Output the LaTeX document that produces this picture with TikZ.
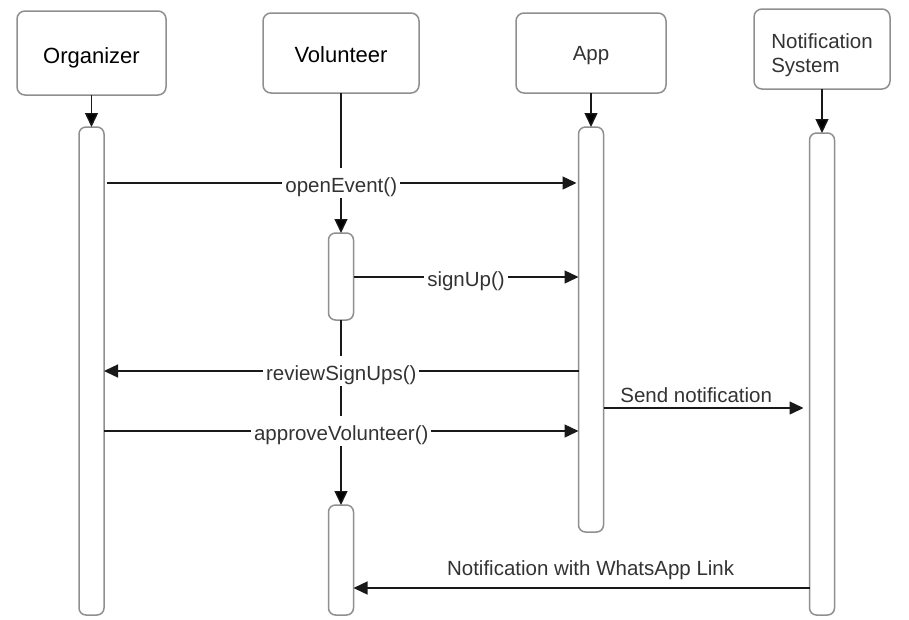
\documentclass[tikz,border=0pt]{standalone}
\usepackage{fontspec}
\setmainfont{Liberation Sans}
\usetikzlibrary{positioning,arrows.meta}
\definecolor{boxgray}{HTML}{8F8F8F}
\definecolor{txtgray}{HTML}{333333}

\begin{document}
\begin{tikzpicture}[x=1pt,y=-1pt,>={Triangle[length=14pt,width=13pt]},semithick]
  \tikzstyle{actor}=[draw=boxgray,line width=1.5pt,rounded corners=8pt,fill=white,inner sep=0pt,outer sep=0pt,text=txtgray,font=\fontsize{20.5}{24}\selectfont,text depth=0pt,text height=18pt]
  \tikzstyle{bigname}=[text=black,font=\fontsize{22}{26}\selectfont]
  \tikzstyle{bar}=[draw=boxgray,line width=1.5pt,rounded corners=7pt,fill=white,minimum width=25pt,inner sep=0pt,outer sep=0pt]
  \tikzstyle{msg}=[->,line width=1.4pt,draw=black!90]
  \tikzstyle{lbl}=[fill=white,inner sep=3pt,text=txtgray,font=\fontsize{20.5}{24}\selectfont,text height=21pt,text depth=3pt]

  \fill[white] (0,0) rectangle (909,619);
  \useasboundingbox (0,0) rectangle (909,619);

  % Participants
  \node[actor, bigname, minimum width=149pt, minimum height=84pt, text height=20.6pt] (Org) at (91.5,53) {Organizer};
  \node[actor, bigname, minimum width=156pt, minimum height=80pt] (Vol) [right=97pt of Org] {Volunteer};
  \node[actor, minimum width=150pt, minimum height=80pt, text height=14pt] (App) [right=97pt of Vol] {App};
  \node[actor, minimum width=136pt, minimum height=80pt, align=left, text height=46pt] (NS) [right=88pt of App, yshift=4pt] {Notification\\System};

  % Activation bars
  \node[bar, minimum height=488pt] (OrgBar) [below=32pt of Org] {};
  \node[bar, minimum height=87pt] (VolBarA) [below=140pt of Vol] {};
  \node[bar, minimum height=110pt] (VolBarB) [below=185pt of VolBarA] {};
  \node[bar, minimum height=405pt] (AppBar) [below=34pt of App] {};
  \node[bar, minimum height=482pt] (NSBar) [below=44pt of NS] {};

  % Lifelines
  \path[msg]
    (Org) edge (OrgBar)
    (Vol) edge (VolBarA)
    (VolBarA) edge (VolBarB)
    (App) edge (AppBar)
    (NS) edge (NSBar);

  % Message rows
  \coordinate (r1) at (0,183);
  \coordinate (r2) at (0,277);
  \coordinate (r3) at (0,371);
  \coordinate (r4) at (0,408);
  \coordinate (r5) at (0,431);
  \coordinate (r6) at (0,588);

  % Messages
  \draw[msg, shorten <=3pt, shorten >=2pt] (OrgBar.east |- r1) -- node[lbl]{openEvent()} (AppBar.west |- r1);
  \draw[msg] (VolBarA.east |- r2) -- node[lbl]{signUp()} (AppBar.west |- r2);
  \draw[msg] (AppBar.west |- r3) -- node[lbl]{reviewSignUps()} (OrgBar.east |- r3);
  \draw[msg, shorten >=6pt] (AppBar.east |- r4) -- node[lbl, above, pos=0.45, fill=none, text height=15pt, text depth=0pt, inner sep=1pt, yshift=4pt]{Send notification} (NSBar.west |- r4);
  \draw[msg] (OrgBar.east |- r5) -- node[lbl]{approveVolunteer()} (AppBar.west |- r5);
  \draw[msg] (NSBar.west |- r6) -- node[lbl, above, pos=0.48, fill=none, text height=15pt, text depth=0pt, inner sep=1pt, yshift=10.5pt]{Notification with WhatsApp Link} (VolBarB.east |- r6);

\end{tikzpicture}
\end{document}
